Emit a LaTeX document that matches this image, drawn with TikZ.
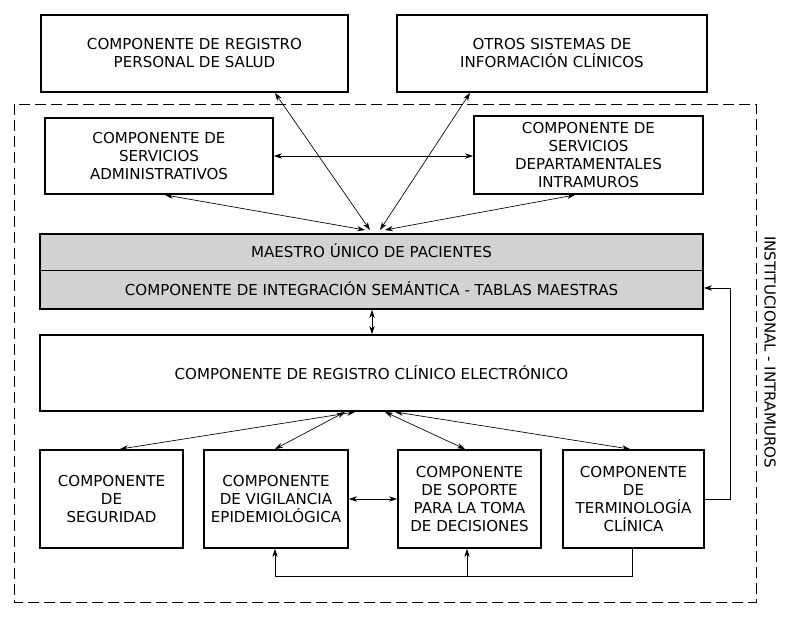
\documentclass[tikz,border=0pt]{standalone}
\usepackage{fontspec}
\setmainfont{DejaVu Sans}
\usetikzlibrary{arrows.meta,calc}
\begin{document}
\begin{tikzpicture}[x=0.75pt,y=-0.75pt,
 box/.style={draw,line width=1.4pt,inner sep=0pt,align=center,font=\fontsize{11.3}{13.5}\selectfont},
 ar/.style={{Stealth[length=6pt,width=4pt]}-{Stealth[length=6pt,width=4pt]},line width=0.5pt},
 ar1/.style={-{Stealth[length=6pt,width=4pt]},line width=0.5pt}]
\useasboundingbox (0,0) rectangle (786,618);
\draw[dashed,line width=0.6pt,dash pattern=on 8pt off 4pt] (14,104) rectangle (756,602);
\node[box,minimum width=307*0.75pt,minimum height=77*0.75pt] (rps) at (194.5,53.5) {COMPONENTE DE REGISTRO\\PERSONAL DE SALUD};
\node[box,minimum width=310*0.75pt,minimum height=77*0.75pt] (osi) at (552,53.5) {OTROS SISTEMAS DE\\INFORMACIÓN CLÍNICOS};
\node[box,minimum width=228*0.75pt,minimum height=76*0.75pt] (adm) at (159,156) {COMPONENTE DE\\SERVICIOS\\ADMINISTRATIVOS};
\node[box,minimum width=229*0.75pt,minimum height=78*0.75pt] (dep) at (588.5,155) {COMPONENTE DE\\SERVICIOS\\DEPARTAMENTALES\\INTRAMUROS};
\node[box,fill=gray!35,minimum width=663*0.75pt,minimum height=75*0.75pt] (mae) at (371.5,271.5) {};
\draw[line width=0.5pt] (mae.west |- 0,270) -- (mae.east |- 0,270);
\node[font=\fontsize{11.3}{13.5}\selectfont] (t1) at (371.5,251) {MAESTRO ÚNICO DE PACIENTES};
\node[font=\fontsize{11.3}{13.5}\selectfont] (t2) at (371.5,289) {COMPONENTE DE INTEGRACIÓN SEMÁNTICA - TABLAS MAESTRAS};
\node[box,minimum width=663*0.75pt,minimum height=76*0.75pt] (rce) at (371.5,373) {COMPONENTE DE REGISTRO CLÍNICO ELECTRÓNICO};
\node[box,minimum width=143*0.75pt,minimum height=98*0.75pt] (seg) at (111.5,499) {COMPONENTE\\DE\\SEGURIDAD};
\node[box,minimum width=144*0.75pt,minimum height=98*0.75pt] (vig) at (276,499) {COMPONENTE\\DE VIGILANCIA\\EPIDEMIOLÓGICA};
\node[box,minimum width=143*0.75pt,minimum height=98*0.75pt] (sop) at (469.5,499) {COMPONENTE\\DE SOPORTE\\PARA LA TOMA\\DE DECISIONES};
\node[box,minimum width=141*0.75pt,minimum height=98*0.75pt] (ter) at (633.5,499) {COMPONENTE\\DE\\TERMINOLOGÍA\\CLÍNICA};
\node[rotate=-90,font=\fontsize{11.3}{13.5}\selectfont] (lab) at (770,352) {INSTITUCIONAL - INTRAMUROS};
% top arrows
\draw[ar] (rps.south -| 275,0) -- (370,230);
\draw[ar] (osi.south -| 470,0) -- (380,230);
\draw[ar] (adm.south -| 165,0) -- (365,230);
\draw[ar] (dep.south -| 575,0) -- (385,230);
\draw[ar] (adm.east) -- (dep.west |- adm.east);
\draw[ar] (mae.south -| 372,0) -- (rce.north -| 372,0);
% bottom arrows
\draw[ar] (rce.south -| 355,0) -- (seg.north -| 120,0);
\draw[ar] (rce.south -| 345,0) -- (vig.north -| 275,0);
\draw[ar] (rce.south -| 385,0) -- (sop.north -| 465,0);
\draw[ar] (rce.south -| 395,0) -- (ter.north -| 630,0);
\draw[ar] (vig.east) -- (sop.west);
% feedback
\coordinate (c1) at (632,576);
\draw[line width=0.5pt] (ter.south -| 632,0) -- (c1) -- (275,576);
\draw[ar1] (275,576) -- (vig.south -| 275,0);
\draw[ar1] (467,576) -- (sop.south -| 467,0);
\coordinate (c2) at (730,288);
\draw[ar1,line width=0.5pt] (ter.east) -- (730,499) -- (c2) -- (mae.east |- c2);
\end{tikzpicture}
\end{document}
